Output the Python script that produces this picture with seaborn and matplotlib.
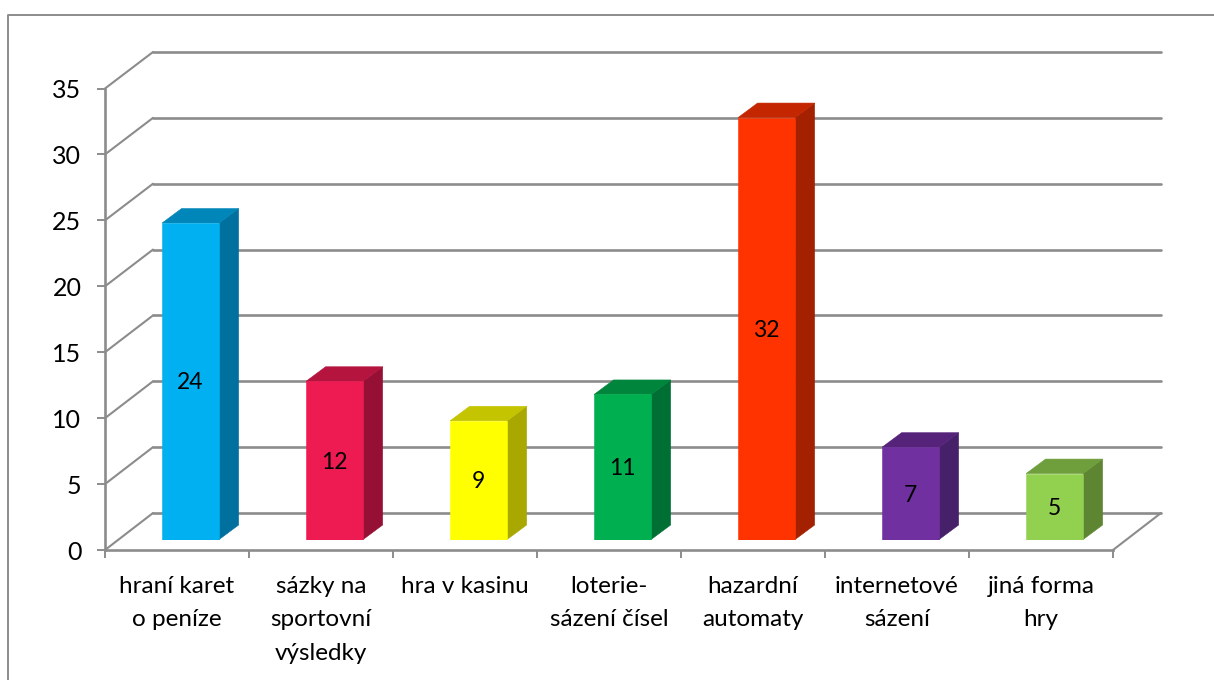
import seaborn as sns
import matplotlib.pyplot as plt
from matplotlib.lines import Line2D
from matplotlib.patches import ConnectionPatch, Polygon

# data
categories = ['hraní karet\no peníze', 'sázky na\nsportovní\nvýsledky', 'hra v kasinu',
              'loterie-\nsázení čísel', 'hazardní\nautomaty', 'internetové\nsázení', 'jiná forma\nhry']
values = [24, 12, 9, 11, 32, 7, 5]
y_ticks = [0, 5, 10, 15, 20, 25, 30, 35]

front_colors = ['#00B0F0', '#ED1B52', '#FFFF00', '#00B050', '#FF3300', '#7030A0', '#92D050']
top_colors = ['#0086B8', '#B4143E', '#C4C400', '#00853C', '#C42700', '#55247A', '#6F9E3C']
side_colors = ['#00709F', '#960F34', '#A8A800', '#006F33', '#A32000', '#47206A', '#5E8632']

W, H = 1214, 680
GREY = '#8C8C8C'


def place(left, right, top, bottom):
    # pixel box (from top left corner) -> figure axes rectangle
    return [left / W, 1 - bottom / H, (right - left) / W, (bottom - top) / H]


sns.set_theme(style='white')
plt.rcParams['font.family'] = ['Lato', 'DejaVu Sans']

fig = plt.figure(figsize=(W / 100, H / 100), dpi=100, facecolor='white')

# three planes with the same scales: back wall, front of the frame, bars
ax_back = fig.add_axes(place(153, 1161, 52, 513))
ax_front = fig.add_axes(place(105, 1113, 88.5, 550))
ax_bars = fig.add_axes(place(118.6, 1126.6, 78, 539.5))

for ax in (ax_back, ax_front, ax_bars):
    ax.set_xlim(-0.5, 6.5)
    ax.set_ylim(0, 35)
    ax.patch.set_alpha(0)

# back wall gridlines
ax_back.set_xticks([])
ax_back.set_yticks(y_ticks)
ax_back.tick_params(left=False, labelleft=False)
ax_back.grid(axis='y', color=GREY, linewidth=1.9, clip_on=False)
sns.despine(ax=ax_back, left=True, bottom=True)

# front frame with the real tick labels
ax_front.set_yticks(y_ticks)
ax_front.set_xticks([i - 0.5 for i in range(8)], minor=True)
ax_front.set_xticks(range(7))
ax_front.set_xticklabels(categories, fontsize=17.5, color='black', linespacing=1.74)
ax_front.set_yticklabels(y_ticks, fontsize=18, color='black')
ax_front.tick_params(axis='y', left=True, length=6, width=1.4, color=GREY, pad=11)
ax_front.tick_params(axis='x', which='major', bottom=False, pad=12.5)
ax_front.tick_params(axis='x', which='minor', bottom=True, length=6, width=1.4, color=GREY)
sns.despine(ax=ax_front)
for side in ('left', 'bottom'):
    ax_front.spines[side].set_color(GREY)
    ax_front.spines[side].set_linewidth(1.9)

# diagonals joining front and back planes
for v in y_ticks:
    fig.add_artist(ConnectionPatch((-0.5, v), (-0.5, v), 'data', 'data', axesA=ax_front, axesB=ax_back,
                                   color=GREY, linewidth=1.5))
fig.add_artist(ConnectionPatch((6.5, 0), (6.5, 0), 'data', 'data', axesA=ax_front, axesB=ax_back,
                               color=GREY, linewidth=1.5))

# bars
sns.barplot(x=list(range(7)), y=values, hue=list(range(7)), palette=front_colors, legend=False,
            width=0.396, saturation=1, dodge=False, ax=ax_bars)
ax_bars.set_xlim(-0.5, 6.5)
ax_bars.set_ylim(0, 35)
ax_bars.axis('off')

# fake 3d sides and tops, built from the bars seaborn drew
depth_x = 19.5 / 144
depth_y = 14.5 / (461.5 / 35)
bars = [p for p in ax_bars.patches if p.get_height() > 0]
bars = sorted(bars, key=lambda p: p.get_x())
for bar, top_c, side_c in zip(bars, top_colors, side_colors):
    x0 = bar.get_x()
    x1 = x0 + bar.get_width()
    h = bar.get_height()
    ax_bars.add_patch(Polygon([(x1, 0), (x1 + depth_x, depth_y), (x1 + depth_x, h + depth_y), (x1, h)],
                              facecolor=side_c, edgecolor=side_c, linewidth=0.4, zorder=1))
    ax_bars.add_patch(Polygon([(x0, h), (x0 + depth_x, h + depth_y), (x1 + depth_x, h + depth_y), (x1, h)],
                              facecolor=top_c, edgecolor=top_c, linewidth=0.4, zorder=1))
    bar.set_edgecolor(bar.get_facecolor())
    bar.set_linewidth(0.4)
    bar.set_zorder(2)

for container in ax_bars.containers:
    for label in ax_bars.bar_label(container, label_type='center', fontsize=16.5, color='black', zorder=3):
        label.xyann = (0, -1.2)

# outer chart border, open to the right and at the bottom
fig.add_artist(Line2D([7.5 / W, 7.5 / W, 1], [0, 1 - 14.7 / H, 1 - 14.7 / H], color=GREY, linewidth=1.4))

fig.savefig('out.png', dpi=100)
